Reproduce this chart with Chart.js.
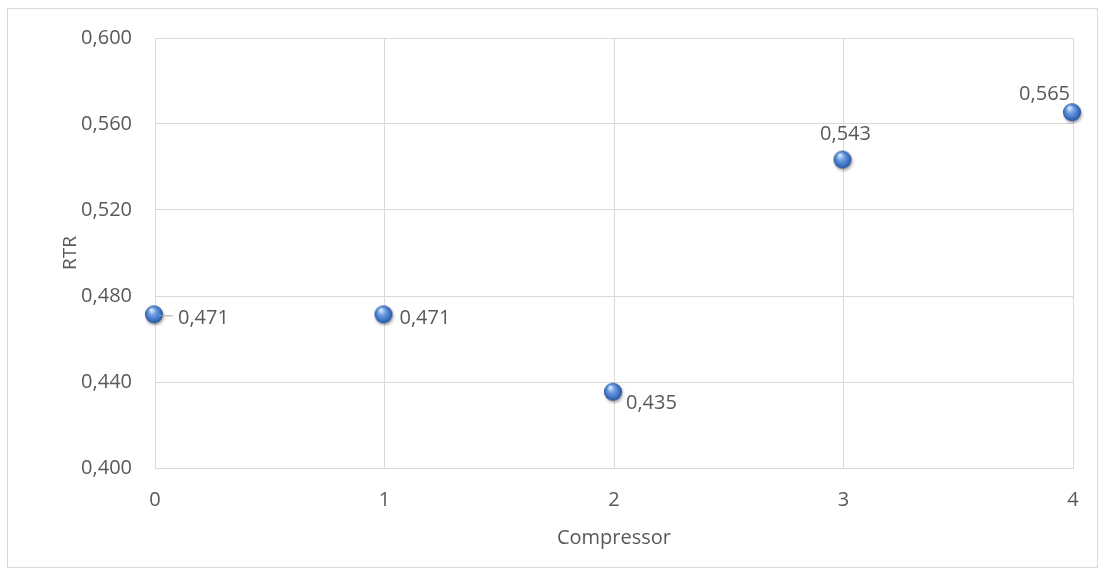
<!DOCTYPE html>
<html>
<head>
<meta charset="utf-8">
<script src="https://cdn.jsdelivr.net/npm/chart.js@4"></script>
<style>
  body { margin: 0; background: #fff; }
  canvas { display: block; }
</style>
</head>
<body>
<canvas id="rtrChart" width="1105" height="576"></canvas>
<script>
const compressorLevels = [0, 1, 2, 3, 4];
const rtrValues = [0.471, 0.471, 0.435, 0.543, 0.565];
const yTickRange = [0.400, 0.600];
const yTickStep = 0.04;

const textColor = '#595959';
const gridColor = '#d9d9d9';
const fontFamily = '"Open Sans", "Liberation Sans", sans-serif';

const fmt = (v) => Number(v).toFixed(3).replace('.', ',');

// blue glossy ball used as the marker
function makeBall(d) {
    const c = document.createElement('canvas');
    c.width = d + 4;
    c.height = d + 4;
    const g = c.getContext('2d');
    const r = d / 2;
    const cx = r + 1, cy = r + 1;
    g.shadowColor = 'rgba(0,0,0,0.35)';
    g.shadowBlur = 3;
    g.shadowOffsetX = 1;
    g.shadowOffsetY = 2;
    const grad = g.createRadialGradient(cx - r * 0.3, cy - r * 0.5, r * 0.1, cx, cy, r);
    grad.addColorStop(0, '#d4e5fb');
    grad.addColorStop(0.35, '#6f9fe2');
    grad.addColorStop(0.8, '#3a6fbf');
    grad.addColorStop(1, '#224c8a');
    g.fillStyle = grad;
    g.beginPath();
    g.arc(cx, cy, r, 0, Math.PI * 2);
    g.fill();
    return c;
}
const ball = makeBall(18);

// label placement per point: [dx, dy, align]
const labelPlacement = [
    [23, 3, 'left'],
    [15, 3, 'left'],
    [12, 11, 'left'],
    [2, -26, 'center'],
    [-3, -19, 'right']
];

const dataLabels = {
    id: 'dataLabels',
    afterDatasetsDraw(chart) {
        const ctx = chart.ctx;
        const meta = chart.getDatasetMeta(0);
        ctx.save();
        ctx.font = '20px ' + fontFamily;
        ctx.fillStyle = textColor;
        ctx.textBaseline = 'middle';
        meta.data.forEach((pt, i) => {
            const p = labelPlacement[i];
            if (i === 0) {
                ctx.strokeStyle = '#a6a6a6';
                ctx.lineWidth = 1;
                ctx.beginPath();
                ctx.moveTo(pt.x + 4, pt.y + 0.5);
                ctx.lineTo(pt.x + 18, pt.y + 0.5);
                ctx.stroke();
            }
            ctx.textAlign = p[2];
            ctx.fillText(fmt(rtrValues[i]), pt.x + p[0], pt.y + p[1]);
        });
        ctx.restore();
    }
};

const frame = {
    id: 'frame',
    beforeDraw(chart) {
        const ctx = chart.ctx;
        ctx.save();
        ctx.fillStyle = '#fff';
        ctx.fillRect(0, 0, chart.width, chart.height);
        ctx.strokeStyle = gridColor;
        ctx.lineWidth = 1;
        ctx.strokeRect(7.5, 8.5, 1090, 559);
        ctx.restore();
    }
};

new Chart(document.getElementById('rtrChart').getContext('2d'), {
    type: 'scatter',
    data: {
        datasets: [{
            label: 'RTR',
            data: compressorLevels.map((x, i) => ({ x: x, y: rtrValues[i] })),
            pointStyle: ball,
            pointRadius: 9,
            pointHoverRadius: 9,
            clip: false
        }]
    },
    options: {
        responsive: false,
        animation: false,
        layout: {
            padding: { left: 0, top: 38, right: 32, bottom: 0 }
        },
        scales: {
            x: {
                type: 'linear',
                min: 0,
                max: 4,
                afterFit: (scale) => { scale.height = 108; },
                ticks: {
                    stepSize: 1,
                    padding: 20,
                    color: textColor,
                    font: { family: fontFamily, size: 20 }
                },
                grid: { color: gridColor, drawTicks: false },
                border: { color: gridColor },
                title: {
                    display: true,
                    text: 'Compressor',
                    color: textColor,
                    padding: { top: 0, bottom: 26 },
                    font: { family: fontFamily, size: 20 }
                }
            },
            y: {
                min: yTickRange[0],
                max: yTickRange[1],
                afterFit: (scale) => { scale.width = 155; },
                ticks: {
                    stepSize: yTickStep,
                    padding: 23,
                    color: textColor,
                    font: { family: fontFamily, size: 20 },
                    callback: (v) => fmt(v)
                },
                grid: { color: gridColor, drawTicks: false },
                border: { color: gridColor },
                title: {
                    display: true,
                    text: 'RTR',
                    color: textColor,
                    padding: { top: 59, bottom: 0 },
                    font: { family: fontFamily, size: 19 }
                }
            }
        },
        plugins: {
            legend: { display: false },
            tooltip: { enabled: false }
        }
    },
    plugins: [frame, dataLabels]
});
</script>
</body>
</html>
